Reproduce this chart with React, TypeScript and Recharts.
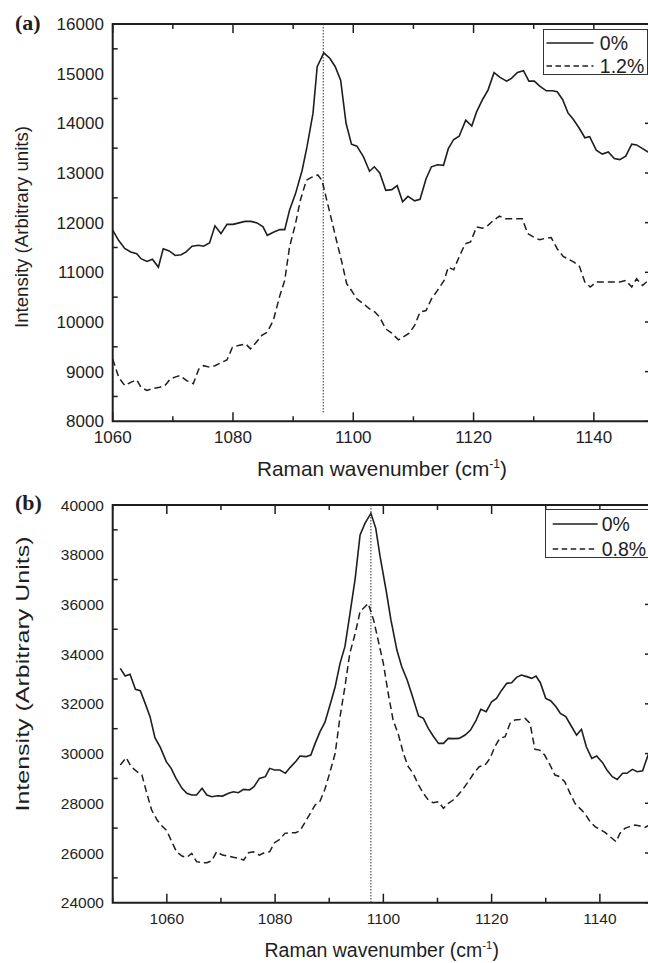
import React from 'react';
import { LineChart, Line, XAxis, YAxis, ReferenceLine, ReferenceArea, Legend } from 'recharts';

const FONT = '"Liberation Sans", Arial, Helvetica, sans-serif';
const SERIF = '"Liberation Serif", "Times New Roman", serif';
const INK = '#1e1e1e';

// ---------- Panel (a) ----------
const aNames = ['0%', '1.2%'];
const aXTicks = [1060, 1070, 1080, 1090, 1100, 1110, 1120, 1130, 1140, 1150];
const aYTicks = [8000, 8500, 9000, 9500, 10000, 10500, 11000, 11500, 12000, 12500, 13000, 13500, 14000, 14500, 15000, 15500, 16000];
const aPeak = 1095;
const aX0 = [1060, 1061, 1062, 1063, 1064, 1064.7, 1065.7, 1066.6, 1067.6, 1068.4, 1069.4, 1070.4, 1071.4, 1072.2, 1073.2, 1074.3, 1075.1, 1076.1, 1077, 1078, 1079, 1080, 1081, 1082, 1083, 1084, 1085, 1085.7, 1086.8, 1087.8, 1088.6, 1089.4, 1090.4, 1091.5, 1092.3, 1093.3, 1094, 1095.1, 1096.1, 1097, 1097.9, 1098.8, 1099.7, 1100.6, 1101.7, 1102.7, 1103.5, 1104.4, 1105.4, 1106.4, 1107.3, 1108.2, 1109.1, 1110.2, 1111.1, 1112.1, 1113, 1114, 1115, 1115.8, 1116.7, 1117.6, 1118.7, 1119.7, 1120.5, 1121.5, 1122.4, 1123.4, 1124.4, 1125.5, 1126.3, 1127.3, 1128.3, 1129.2, 1130.1, 1131, 1132.1, 1133.1, 1133.9, 1134.8, 1135.7, 1136.6, 1137.6, 1138.5, 1139.3, 1140.4, 1141.4, 1142.4, 1143.4, 1144.3, 1145.3, 1146.3, 1147.1, 1148.1, 1149, 1150];
const aY0 = [11850, 11640, 11480, 11410, 11375, 11275, 11220, 11265, 11105, 11475, 11430, 11340, 11355, 11410, 11525, 11545, 11525, 11590, 11935, 11780, 11965, 11965, 11995, 12025, 12025, 11995, 11915, 11745, 11810, 11860, 11860, 12250, 12585, 13055, 13525, 14200, 15140, 15420, 15310, 15140, 14870, 14000, 13580, 13540, 13325, 13035, 13125, 13000, 12650, 12665, 12745, 12420, 12530, 12440, 12470, 12885, 13125, 13165, 13155, 13490, 13675, 13740, 14065, 13945, 14230, 14480, 14670, 15020, 14925, 14850, 14905, 15025, 15060, 14850, 14850, 14750, 14655, 14655, 14635, 14480, 14210, 14075, 13895, 13710, 13730, 13460, 13380, 13425, 13290, 13270, 13340, 13580, 13565, 13490, 13425, 13400];
const aX1 = [1060, 1061, 1062, 1063, 1064, 1064.7, 1065.7, 1066.8, 1067.8, 1068.7, 1069.6, 1070.6, 1071.2, 1072.3, 1073.4, 1074.3, 1075.1, 1076.1, 1077, 1078.2, 1079, 1079.9, 1080.9, 1082.1, 1082.9, 1083.9, 1084.8, 1085.7, 1086.7, 1087.8, 1088.6, 1089.4, 1090.4, 1091.2, 1092.2, 1093.2, 1094.1, 1094.8, 1095.6, 1096.4, 1097.2, 1098.1, 1098.9, 1099.7, 1100.6, 1101.7, 1102.7, 1103.6, 1104.4, 1105.4, 1106.4, 1107.5, 1108.3, 1109.3, 1110.2, 1111.1, 1112.1, 1113, 1114, 1115.1, 1115.8, 1116.7, 1117.6, 1118.6, 1119.5, 1120.5, 1121.5, 1122.4, 1123.3, 1124.3, 1125.2, 1126.2, 1127.1, 1128.1, 1129, 1130.1, 1131, 1132.1, 1132.9, 1133.9, 1134.9, 1135.9, 1136.7, 1137.6, 1138.5, 1139.4, 1140.4, 1141.4, 1142.4, 1143.4, 1144.3, 1145.3, 1146.3, 1147.1, 1148.1, 1149, 1150];
const aY1 = [9255, 8885, 8720, 8785, 8835, 8685, 8620, 8665, 8685, 8720, 8855, 8900, 8920, 8820, 8755, 9050, 9120, 9090, 9120, 9190, 9235, 9490, 9525, 9560, 9460, 9595, 9730, 9795, 10030, 10535, 10835, 11510, 11980, 12450, 12855, 12920, 12960, 12850, 12450, 12050, 11645, 11205, 10770, 10635, 10465, 10365, 10265, 10200, 10095, 9860, 9775, 9640, 9695, 9775, 9930, 10200, 10230, 10465, 10635, 10835, 11105, 11050, 11310, 11575, 11610, 11915, 11890, 11945, 12045, 12130, 12080, 12080, 12080, 12080, 11780, 11700, 11655, 11690, 11700, 11475, 11320, 11255, 11205, 11120, 10805, 10705, 10805, 10805, 10805, 10805, 10805, 10835, 10705, 10870, 10735, 10835, 10800];

// ---------- Panel (b) ----------
const bNames = ['0%', '0.8%'];
const bXTicks = [1050, 1060, 1070, 1080, 1090, 1100, 1110, 1120, 1130, 1140, 1150];
const bYTicks = [24000, 25000, 26000, 27000, 28000, 29000, 30000, 31000, 32000, 33000, 34000, 35000, 36000, 37000, 38000, 39000, 40000];
const bPeak = 1097.7;
const bX0 = [1051.4, 1052.3, 1053.2, 1054.2, 1055.1, 1056, 1056.9, 1057.8, 1058.8, 1059.9, 1060.8, 1061.7, 1062.8, 1063.7, 1064.6, 1065.5, 1066.5, 1067.4, 1068.3, 1069.4, 1070.3, 1071.4, 1072.3, 1073.2, 1074.2, 1075.3, 1076.1, 1077.1, 1078.2, 1079, 1079.9, 1080.9, 1081.9, 1082.8, 1083.9, 1084.6, 1085.7, 1086.6, 1087.4, 1088.3, 1089.2, 1090.2, 1091.1, 1092, 1092.9, 1093.8, 1094.8, 1095.7, 1096.6, 1097.7, 1098.6, 1099.4, 1100.5, 1101.4, 1102.5, 1103.4, 1104.4, 1105.4, 1106.5, 1107.4, 1108.3, 1109.2, 1110.2, 1111.1, 1112, 1113, 1114, 1115.1, 1116.1, 1117.1, 1118, 1119, 1120, 1120.9, 1121.8, 1122.8, 1123.7, 1124.6, 1125.5, 1126.5, 1127.4, 1128.2, 1129, 1130, 1130.9, 1131.9, 1132.7, 1133.7, 1134.6, 1135.7, 1136.6, 1137.5, 1138.5, 1139.4, 1140.5, 1141.3, 1142.3, 1143.2, 1144.2, 1145, 1146, 1146.9, 1147.9, 1148.9, 1150];
const bY0 = [33430, 33120, 33190, 32585, 32530, 32020, 31485, 30640, 30250, 29675, 29405, 29000, 28600, 28400, 28330, 28330, 28600, 28330, 28265, 28305, 28290, 28400, 28465, 28425, 28560, 28535, 28665, 29000, 29070, 29405, 29340, 29340, 29205, 29445, 29700, 29900, 29875, 29940, 30410, 30880, 31250, 31990, 32690, 33630, 34300, 35575, 37050, 38795, 39260, 39665, 39060, 37920, 36580, 35375, 34165, 33495, 32960, 32290, 31510, 31415, 31015, 30705, 30410, 30410, 30610, 30600, 30610, 30745, 30945, 31320, 31780, 31685, 32085, 32220, 32530, 32825, 32850, 33065, 33160, 33095, 33025, 33120, 32850, 32220, 32125, 31885, 31615, 31485, 31150, 30745, 30975, 30275, 29805, 29900, 29635, 29340, 29070, 28960, 29205, 29205, 29365, 29270, 29310, 29940, 29960];
const bX1 = [1051.4, 1052.5, 1053.4, 1054.5, 1055.4, 1056.3, 1057.2, 1058.2, 1059.1, 1060, 1060.9, 1061.8, 1062.8, 1063.7, 1064.6, 1065.5, 1066.5, 1067.4, 1068.3, 1069.2, 1070.3, 1071.4, 1072.3, 1073.2, 1074.2, 1075.1, 1076, 1077.1, 1078, 1079, 1079.9, 1080.9, 1081.8, 1082.8, 1083.8, 1084.6, 1085.5, 1086.5, 1087.4, 1088.3, 1089.2, 1090.2, 1091.1, 1092, 1092.9, 1093.8, 1094.8, 1095.7, 1096.6, 1097.2, 1098.2, 1099.1, 1100, 1100.9, 1101.8, 1102.8, 1103.7, 1104.6, 1105.5, 1106.5, 1107.4, 1108.3, 1109.2, 1110.2, 1111.1, 1112, 1112.9, 1113.8, 1114.8, 1115.7, 1116.7, 1117.7, 1118.8, 1119.7, 1120.6, 1121.5, 1122.5, 1123.4, 1124.3, 1125.2, 1126.2, 1127.1, 1128, 1128.9, 1129.8, 1130.8, 1131.7, 1132.6, 1133.5, 1134.5, 1135.4, 1136.3, 1137.2, 1138.2, 1139.1, 1140, 1141, 1141.9, 1143, 1143.7, 1144.6, 1145.5, 1146.5, 1147.4, 1148.3, 1149.2, 1150];
const bY1 = [29540, 29835, 29470, 29270, 29135, 28400, 27730, 27325, 27085, 26895, 26455, 26050, 25875, 25825, 25985, 25650, 25610, 25610, 25690, 26050, 25915, 25875, 25825, 25785, 25715, 26010, 26050, 25915, 26010, 26050, 26415, 26550, 26790, 26815, 26815, 26895, 27220, 27595, 27930, 28085, 28565, 29300, 30010, 31485, 32690, 34030, 34835, 35710, 35910, 36045, 35375, 34500, 33630, 32420, 31350, 30745, 30010, 29470, 29205, 28735, 28400, 28130, 28025, 28065, 27795, 27995, 28130, 28330, 28600, 28870, 29205, 29470, 29540, 29805, 30275, 30610, 30680, 31215, 31350, 31375, 31415, 31215, 30170, 30140, 29940, 29540, 29135, 29070, 28870, 28400, 27995, 27795, 27595, 27260, 27060, 26950, 26815, 26655, 26455, 26790, 26990, 27060, 27125, 27085, 27030, 27125, 27100];

const toPoints = (xs: number[], ys: number[]) => xs.map((x, i) => ({ x, y: ys[i] }));

// ---------- layout ----------
const CHART_W = 670;
const Y_AXIS_W = 100;
const M_LEFT = 12.7;
const M_RIGHT = 16;
const PLOT_W = CHART_W - M_LEFT - Y_AXIS_W - M_RIGHT;
const X_AXIS_H = 40;
const DASH = '7 4';

type LegendCfg = { left: number; top: number; width: number; height: number; rows: number[]; lineX1: number; lineX2: number; textX: number; font: number };

type PanelProps = {
  tag: string; tagY: number;
  top: number; height: number; marginTop: number; plotBottom: number;
  xDomain: [number, number]; xTicks: number[];
  yDomain: [number, number]; yTicks: number[]; yMajor: number;
  names: string[]; s0: { x: number; y: number }[]; s1: { x: number; y: number }[];
  peak: number; peakBottom: number;
  yTitle: string; yTitleLen: number; yTitleX: number; yTitleY: number;
  tickFont: number; xLabelDy: number;
  xTitleFont: number; xTitleX: number; xTitleY: number;
  legend: LegendCfg;
};

function LegendBox({ cfg, names }: { cfg: LegendCfg; names: string[] }) {
  return (
    <div style={{ position: 'relative', width: cfg.width, height: cfg.height, border: '1px solid #333', background: '#fff', boxSizing: 'border-box', fontFamily: FONT }}>
      {names.map((n, i) => (
        <div key={n} style={{ position: 'absolute', left: 0, top: cfg.rows[i] - 12, height: 24, width: '100%' }}>
          <svg width={cfg.lineX2 + 2} height={24} style={{ position: 'absolute', left: 0, top: 0 }}>
            <line x1={cfg.lineX1} x2={cfg.lineX2} y1={12} y2={12} stroke={INK} strokeWidth={1.4} strokeDasharray={i === 1 ? '5.5 3.5' : undefined} />
          </svg>
          <span style={{ position: 'absolute', left: cfg.textX, top: 0, lineHeight: '24px', fontSize: cfg.font, color: INK, whiteSpace: 'nowrap' }}>{n}</span>
        </div>
      ))}
    </div>
  );
}

function Panel(p: PanelProps) {
  const plotH = p.plotBottom - p.marginTop;
  const xTick = (t: any) => {
    const { x, y, payload } = t;
    const v = payload.value;
    const major = v % 20 === 0;
    const len = major ? 9 : 5;
    return (
      <g>
        <line x1={x} x2={x} y1={y} y2={y - len} stroke={INK} strokeWidth={1.5} />
        <line x1={x} x2={x} y1={y - plotH} y2={y - plotH + len} stroke={INK} strokeWidth={1.5} />
        {major && (
          <text x={x} y={y + p.xLabelDy} textAnchor="middle" fontSize={p.tickFont} fontFamily={FONT} fill={INK}>{v}</text>
        )}
      </g>
    );
  };
  const yTick = (t: any) => {
    const { x, y, payload } = t;
    const v = payload.value;
    const major = v % p.yMajor === 0;
    return (
      <g>
        {major ? (
          <line x1={x + PLOT_W - 9} x2={x + PLOT_W} y1={y} y2={y} stroke={INK} strokeWidth={1.5} />
        ) : (
          <line x1={x} x2={x + 5} y1={y} y2={y} stroke={INK} strokeWidth={1.5} />
        )}
        {major && (
          <text x={x - 8.8} y={y + 0.358 * p.tickFont} textAnchor="end" fontSize={p.tickFont} fontFamily={FONT} fill={INK}>{v}</text>
        )}
      </g>
    );
  };
  const yLabel = () => (
    <g>
      <text transform={`translate(${p.yTitleX},${p.yTitleY}) rotate(-90)`} textAnchor="middle" fontSize={19} fontFamily={FONT} fill={INK} textLength={p.yTitleLen} lengthAdjust="spacingAndGlyphs">{p.yTitle}</text>
      <text x={15} y={p.tagY} fontFamily={SERIF} fontWeight="bold" fontSize={22} fill={INK}>{p.tag}</text>
    </g>
  );
  const xLabel = () => (
    <text x={p.xTitleX} y={p.xTitleY} textAnchor="middle" fontSize={p.xTitleFont} fontFamily={FONT} fill={INK}>
      Raman wavenumber (cm<tspan dy={-8} fontSize={p.xTitleFont * 0.58}>-1</tspan><tspan dy={8} fontSize={p.xTitleFont}>)</tspan>
    </text>
  );
  const lg = p.legend;
  return (
    <div style={{ position: 'absolute', left: 0, top: p.top }}>
      <LineChart width={CHART_W} height={p.height} margin={{ top: p.marginTop, right: M_RIGHT, bottom: p.height - p.plotBottom - X_AXIS_H, left: M_LEFT }}>
        <XAxis dataKey="x" type="number" domain={p.xDomain} ticks={p.xTicks} interval={0} allowDataOverflow height={X_AXIS_H} tickSize={0} tickMargin={0} axisLine={false} tickLine={false} tick={xTick} label={xLabel} />
        <YAxis type="number" domain={p.yDomain} ticks={p.yTicks} interval={0} allowDataOverflow width={Y_AXIS_W} tickSize={0} tickMargin={0} axisLine={false} tickLine={false} tick={yTick} label={yLabel} />
        <ReferenceArea x1={p.xDomain[0]} x2={p.xDomain[1]} y1={p.yDomain[0]} y2={p.yDomain[1]} fill="none" fillOpacity={0} stroke={INK} strokeWidth={2} ifOverflow="visible" />
        <ReferenceLine segment={[{ x: p.peak, y: p.yDomain[1] }, { x: p.peak, y: p.peakBottom }]} stroke="#333" strokeWidth={1} strokeDasharray="1.5 1.5" />
        <Line data={p.s0} dataKey="y" name={p.names[0]} type="linear" dot={false} stroke={INK} strokeWidth={1.6} isAnimationActive={false} />
        <Line data={p.s1} dataKey="y" name={p.names[1]} type="linear" dot={false} stroke={INK} strokeWidth={1.5} strokeDasharray={DASH} isAnimationActive={false} />
        <Legend layout="vertical" align="center" verticalAlign="middle" wrapperStyle={{ left: lg.left, top: lg.top, width: lg.width, height: lg.height, right: 'auto', bottom: 'auto' }} content={() => <LegendBox cfg={lg} names={p.names} />} />
      </LineChart>
    </div>
  );
}

export default function App() {
  return (
    <div style={{ position: 'fixed', left: 0, top: 0, width: 648, height: 963, overflow: 'hidden', background: '#fff' }}>
      <Panel
        tag="(a)" tagY={29.8}
        top={0} height={490} marginTop={24} plotBottom={421.3}
        xDomain={[1060, 1150]} xTicks={aXTicks}
        yDomain={[8000, 16000]} yTicks={aYTicks} yMajor={1000}
        names={aNames} s0={toPoints(aX0, aY0)} s1={toPoints(aX1, aY1)}
        peak={aPeak} peakBottom={8150}
        yTitle="Intensity (Arbitrary units)" yTitleLen={202} yTitleX={27.6} yTitleY={227}
        tickFont={17} xLabelDy={21.5}
        xTitleFont={20.8} xTitleX={382} xTitleY={476}
        legend={{ left: 543.3, top: 29, width: 105, height: 45.5, rows: [12.7, 36], lineX1: 2.5, lineX2: 49.5, textX: 55.5, font: 19.5 }}
      />
      <Panel
        tag="(b)" tagY={20.1}
        top={490} height={473} marginTop={15} plotBottom={412.7}
        xDomain={[1050, 1150]} xTicks={bXTicks}
        yDomain={[24000, 40000]} yTicks={bYTicks} yMajor={2000}
        names={bNames} s0={toPoints(bX0, bY0)} s1={toPoints(bX1, bY1)}
        peak={bPeak} peakBottom={24000}
        yTitle="Intensity (Arbitrary Units)" yTitleLen={275} yTitleX={29.3} yTitleY={184}
        tickFont={15.5} xLabelDy={21.1}
        xTitleFont={19.5} xTitleX={381.7} xTitleY={466.7}
        legend={{ left: 545, top: 19.3, width: 104, height: 49, rows: [14, 39], lineX1: 6.7, lineX2: 51.7, textX: 55.7, font: 19.5 }}
      />
    </div>
  );
}
